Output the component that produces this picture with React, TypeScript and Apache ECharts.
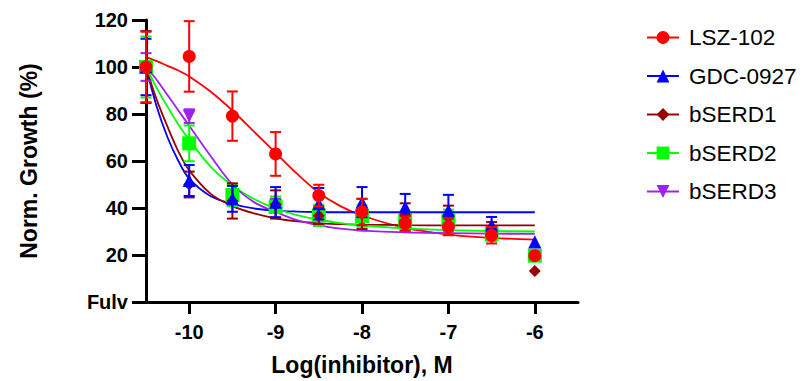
import React, { useEffect, useRef } from "react";
import * as echarts from "echarts";

// ---- data ----
const doseX = [-10.5, -10, -9.5, -9, -8.5, -8, -7.5, -7, -6.5, -6];
const xTicks = [-10, -9, -8, -7, -6];

const seriesNames = ["LSZ-102", "GDC-0927", "bSERD1", "bSERD2", "bSERD3"];

const lszMean = [100, 104.5, 79.1, 63, 45.3, 38.3, 33.4, 32, 28.4, 19.7];
const lszErr = [15, 15, 10.5, 9.3, 4.6, 5.6, 3, 3.6, 3.5, 0];
const gdcMean = [100, 51.7, 43.9, 42.5, 41.8, 42.5, 40.4, 39, 32.7, 25.6];
const gdcErr = [12, 6.6, 5.5, 6.4, 6.7, 6.4, 5.6, 6.6, 3.5, 0];
const b1Mean = [100, 50, 43, 41.5, 36.7, 37.5, 37, 36, 31, 13.2];
const b1Err = [15.3, 5.5, 7.5, 6, 3.5, 6.4, 5, 5, 3, 0];
const b2Mean = [100, 67.5, 45.5, 40.4, 36.9, 36.6, 34.5, 34.8, 28.9, 19.7];
const b2Err = [13, 7.6, 4.7, 4.5, 4.5, 4.5, 4, 4.5, 3, 0];
const b3Mean = [100, 79.1, 45, 41, 35, 33.5, 32.5, 32.5, 29.5, 20];
const b3Err = [5.9, 2.9, 3, 3, 2.5, 3, 2.5, 2.5, 2, 0];

// fitted curves
const curveX = [-10.5, -10.375, -10.25, -10.125, -10, -9.75, -9.5, -9.25, -9, -8.75, -8.5, -8.25, -8, -7.5, -7, -6.5, -6];
const lszCurve = [104.3, 102.5, 100.5, 98.5, 96, 89.5, 81.5, 72.5, 63.5, 54.5, 46.5, 40.8, 36.8, 31.5, 28.7, 27.3, 26.5];
const gdcCurve = [100, 83, 70, 60, 52.5, 45, 41.8, 39.8, 38.9, 38.5, 38.3, 38.2, 38.2, 38.2, 38.2, 38.2, 38.2];
const b1Curve = [100, 86, 74.5, 64, 56, 46, 40.8, 37.7, 35.6, 34.3, 33.6, 33.1, 32.9, 32.7, 32.6, 32.6, 32.6];
const b2Curve = [100, 91, 83, 75.5, 69, 57.5, 49.5, 43.8, 39.8, 37, 35, 33.6, 32.6, 31.3, 30.6, 30.2, 30.0];
const b3Curve = [100, 94.5, 88, 81.5, 75, 62, 50, 42.5, 38.3, 34.8, 32.6, 31.2, 30.4, 29.6, 29.3, 29.1, 29.0];

const colors = ["#ff0000", "#0000ff", "#990000", "#00ff00", "#a020f0"];
const symbols = ["circle", "triangle", "diamond", "rect", "triangle"];
const rotates = [0, 0, 0, 0, 180];
const sizes = [13, 13, 12, 14, 13];

const means = [lszMean, gdcMean, b1Mean, b2Mean, b3Mean];
const errs = [lszErr, gdcErr, b1Err, b2Err, b3Err];
const curves = [lszCurve, gdcCurve, b1Curve, b2Curve, b3Curve];

const FONT = "'Liberation Sans', Arial, Helvetica, sans-serif";

export default function App() {
  const ref = useRef<HTMLDivElement>(null);
  useEffect(() => {
    if (!ref.current) return;
    const chart = echarts.init(ref.current, null, { renderer: "svg" });
    const series: any[] = [];
    // curves first (legend icon taken from them)
    seriesNames.forEach((name, i) => {
      series.push({
        name,
        type: "line",
        data: curveX.map((x, k) => [x, curves[i][k]]),
        smooth: 0.35,
        showSymbol: false,
        symbol: symbols[i],
        symbolRotate: rotates[i],
        symbolSize: sizes[i],
        color: colors[i],
        lineStyle: { color: colors[i], width: 1.8 },
        z: 2,
        silent: true,
      });
    });
    seriesNames.forEach((name, i) => {
      const zBase = 20 - i * 3;
      series.push({
        name,
        type: "custom",
        data: doseX.map((x, k) => [x, means[i][k], errs[i][k]]),
        renderItem: (params: any, api: any) => {
          const x = api.value(0);
          const y = api.value(1);
          const e = api.value(2);
          if (!e) return { type: "group", children: [] };
          const top = api.coord([x, y + e]);
          const bot = api.coord([x, y - e]);
          const hw = 5.5;
          const st = { stroke: colors[i], lineWidth: 2 };
          return {
            type: "group",
            children: [
              { type: "line", shape: { x1: top[0], y1: top[1], x2: bot[0], y2: bot[1] }, style: st },
              { type: "line", shape: { x1: top[0] - hw, y1: top[1], x2: top[0] + hw, y2: top[1] }, style: st },
              { type: "line", shape: { x1: bot[0] - hw, y1: bot[1], x2: bot[0] + hw, y2: bot[1] }, style: st },
            ],
          };
        },
        z: zBase,
        silent: true,
      });
      series.push({
        name,
        type: "scatter",
        data: doseX.map((x, k) => [x, means[i][k]]),
        symbol: symbols[i],
        symbolRotate: rotates[i],
        symbolSize: sizes[i],
        itemStyle: { color: colors[i], opacity: 1 },
        z: zBase + 1,
        silent: true,
      });
    });

    chart.setOption({
      animation: false,
      textStyle: { fontFamily: FONT },
      grid: { left: 146, right: 226, top: 20, bottom: 77.4, containLabel: false },
      legend: {
        data: seriesNames,
        orient: "vertical",
        left: 641,
        top: 21,
        itemWidth: 32,
        itemHeight: 16,
        itemGap: 15.5,
        selectedMode: false,
        textStyle: { fontFamily: FONT, fontSize: 22.5, color: "#000", padding: [0, 0, 0, 5] },
      },
      xAxis: {
        type: "value",
        min: -10.5,
        max: -5.5,
        name: "Log(inhibitor), M",
        nameLocation: "middle",
        nameGap: 51,
        nameTextStyle: { fontFamily: FONT, fontSize: 23, fontWeight: "bold", color: "#000" },
        axisLine: { show: true, onZero: false, lineStyle: { color: "#000", width: 3 } },
        axisTick: { show: true, customValues: xTicks, length: 12, lineStyle: { color: "#000", width: 3 } },
        axisLabel: {
          customValues: xTicks,
          margin: 20,
          fontFamily: FONT,
          fontSize: 20,
          fontWeight: "bold",
          color: "#000",
        },
        splitLine: { show: false },
      },
      yAxis: {
        type: "value",
        min: 0,
        max: 120,
        interval: 20,
        name: "Norm. Growth (%)",
        nameLocation: "middle",
        nameGap: 106,
        nameTextStyle: { fontFamily: FONT, fontSize: 23, fontWeight: "bold", color: "#000" },
        axisLine: { show: true, lineStyle: { color: "#000", width: 3 } },
        axisTick: { show: true, length: 14, lineStyle: { color: "#000", width: 3 } },
        axisLabel: {
          margin: 18,
          fontFamily: FONT,
          fontSize: 20,
          fontWeight: "bold",
          color: "#000",
          formatter: (v: number) => (v === 0 ? "Fulv" : String(v)),
        },
        splitLine: { show: false },
      },
      series,
    });
    return () => chart.dispose();
  }, []);
  return (
    <div
      ref={ref}
      style={{ position: "fixed", left: 0, top: 0, width: 804, height: 381, background: "#fff" }}
    />
  );
}
